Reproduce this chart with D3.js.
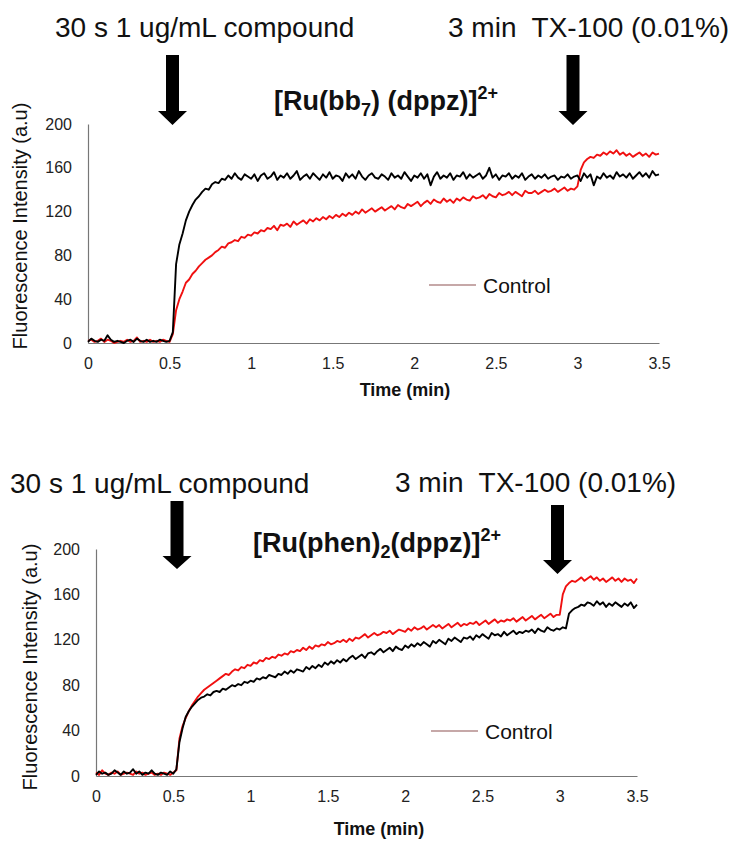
<!DOCTYPE html>
<html><head><meta charset="utf-8">
<script src="https://cdn.jsdelivr.net/npm/d3@7"></script>
<style>
body{margin:0;background:#fff}
svg{display:block}
text{font-family:"Liberation Sans",Arial,Helvetica,sans-serif}
</style>
</head><body>
<svg id="c" width="741" height="841"></svg>
<script>
// sampling grid (min), one reading every 0.02 min
const times = d3.range(176).map(i => +(i * 0.02).toFixed(2));
const xTicks = [0, 0.5, 1, 1.5, 2, 2.5, 3, 3.5];
const yTicks = [0, 40, 80, 120, 160, 200];
const legendLabel = "Control";
const annotLeft = "30 s 1 ug/mL compound";
const annotRight = "3 min  TX-100 (0.01%)";
const xLabel = "Time (min)";
const yLabel = "Fluorescence Intensity (a.u)";

// [Ru(bb7)(dppz)]2+ panel
const topBlack = [
  1,4,2,1,3,2,7,3,1,2,
  1,0,2,3,1,4,2,1,3,1,
  2,1,3,2,1,2,10,72,90,100,
  112,120,126,131,134,138,141,140,145,147,
  146,150,149,153,150,155,151,149,154,152,
  150,154,148,153,155,150,152,156,149,153,
  151,155,150,153,157,149,152,154,150,155,
  152,149,154,151,156,150,153,152,148,155,
  151,154,150,157,152,149,153,155,151,150,
  154,152,149,155,151,153,150,156,152,148,
  153,151,155,150,154,144,152,156,150,153,
  151,155,149,153,152,156,150,154,151,153,
  155,150,153,160,151,154,149,153,152,155,
  150,153,151,155,149,152,154,150,153,151,
  154,150,152,153,149,152,151,154,150,152,
  153,148,155,151,154,144,152,150,155,151,
  153,150,156,152,154,151,155,150,153,156,
  152,155,151,157,153,154
];
const topRed = [
  2,3,1,2,4,1,3,2,0,1,
  2,1,3,1,2,5,1,2,1,3,
  1,2,1,3,2,1,8,30,40,47,
  55,58,63,66,70,73,76,78,80,83,
  85,88,87,91,92,94,93,97,96,99,
  98,101,100,103,102,105,104,107,103,108,
  107,109,106,111,108,110,112,109,113,111,
  114,112,115,113,116,114,117,115,118,116,
  119,117,120,118,122,119,121,123,120,122,
  124,121,123,125,122,126,124,123,127,125,
  127,129,125,128,130,127,131,129,128,132,
  129,131,128,132,130,133,131,130,134,132,
  133,135,132,136,134,133,137,135,136,138,
  135,138,136,134,139,137,137,139,136,138,
  140,138,139,141,138,140,142,139,141,140,
  143,158,165,168,170,169,172,171,174,172,
  175,173,176,172,174,171,173,170,172,174,
  171,173,170,174,172,173
];
// [Ru(phen)2(dppz)]2+ panel
const botBlack = [
  1,4,2,3,1,2,5,3,1,4,
  2,3,6,2,4,1,3,2,5,2,
  1,3,2,1,4,2,6,30,42,52,
  57,61,64,67,69,70,72,71,74,75,
  74,77,76,78,80,79,81,80,83,82,
  84,83,86,85,87,86,89,88,87,90,
  89,92,90,93,91,94,93,92,96,94,
  97,95,98,96,100,98,101,99,102,100,
  103,101,104,106,103,105,107,104,108,109,
  107,110,112,109,111,113,110,114,112,111,
  115,113,116,114,117,115,118,116,114,119,
  117,120,118,116,121,119,122,120,118,122,
  121,123,120,124,122,125,123,121,126,124,
  125,123,127,124,126,128,125,127,126,128,
  127,129,126,130,128,127,131,129,128,130,
  129,131,130,143,146,148,149,151,150,153,
  152,150,154,151,153,149,152,150,153,151,
  149,152,150,153,148,151
];
const botRed = [
  3,1,5,2,1,3,2,4,1,2,
  3,2,1,4,2,3,1,2,3,1,
  2,1,3,2,1,3,5,33,44,51,
  57,62,66,70,73,76,78,80,82,84,
  86,88,90,89,92,94,93,96,95,98,
  97,100,99,102,101,104,103,105,104,107,
  106,108,107,110,109,111,110,113,111,114,
  112,115,114,116,115,118,116,117,119,118,
  120,118,121,119,122,121,123,125,122,124,
  126,124,125,127,126,128,125,127,129,128,
  127,130,128,131,129,130,132,129,131,133,
  131,133,130,132,134,131,133,135,132,134,
  133,135,134,136,133,135,137,134,136,138,
  135,137,136,138,137,139,136,138,140,137,
  139,141,138,140,142,139,141,143,140,142,
  142,160,167,170,172,171,173,175,172,174,
  176,173,175,172,174,171,173,175,172,174,
  171,174,172,173,170,174
];

const svg = d3.select("#c");
const FONT = '"Liberation Sans",Arial,Helvetica,sans-serif';

function arrow(cx, top, hs, tip) {
  const p = d3.path();
  p.moveTo(cx - 6.5, top); p.lineTo(cx + 6.5, top); p.lineTo(cx + 6.5, hs);
  p.lineTo(cx + 14.5, hs); p.lineTo(cx, tip); p.lineTo(cx - 14.5, hs);
  p.lineTo(cx - 6.5, hs); p.closePath();
  svg.append("path").attr("d", p.toString()).attr("fill", "#000");
}

function panel(c) {
  const x = d3.scaleLinear().domain([0, 3.5]).range([c.x0, c.x1]);
  const y = d3.scaleLinear().domain([0, 200]).range([c.y0, c.y1]);
  const g = svg.append("g");

  const ya = g.append("g").attr("transform", `translate(${c.x0},0)`)
    .call(d3.axisLeft(y).tickValues(yTicks).tickSize(0).tickPadding(16));
  const xa = g.append("g").attr("transform", `translate(0,${c.y0})`)
    .call(d3.axisBottom(x).tickValues(xTicks).tickFormat(d3.format("")).tickSize(0).tickPadding(15));
  [ya, xa].forEach(a => {
    a.select(".domain").attr("stroke", "#777").attr("stroke-width", 1.2);
    a.selectAll("text").attr("font-size", 16).attr("fill", "#222").attr("font-family", FONT);
  });

  const line = d3.line().x((d, i) => x(times[i])).y(d => y(d));
  g.append("path").datum(c.red).attr("d", line)
    .attr("fill", "none").attr("stroke", "#f01010").attr("stroke-width", 1.9).attr("stroke-linejoin", "round");
  g.append("path").datum(c.black).attr("d", line)
    .attr("fill", "none").attr("stroke", "#000").attr("stroke-width", 1.9).attr("stroke-linejoin", "round");

  // legend
  g.append("line").attr("x1", c.lgx).attr("x2", c.lgx + 47).attr("y1", c.lgy).attr("y2", c.lgy)
    .attr("stroke", "#b38b8b").attr("stroke-width", 1.5);
  g.append("text").attr("x", c.lgx + 54).attr("y", c.lgy + 8).attr("font-size", 21).attr("fill", "#111").text(legendLabel);

  // axis titles
  g.append("text").attr("x", c.xlx).attr("y", c.xly).attr("text-anchor", "middle")
    .attr("font-size", 18).attr("font-weight", "bold").attr("fill", "#111").text(xLabel);
  g.append("text").attr("transform", `translate(${c.ylx},${c.yly}) rotate(-90)`).attr("text-anchor", "middle")
    .attr("font-size", 20).attr("fill", "#111").text(yLabel);

  // title
  const t = g.append("text").attr("x", c.tx).attr("y", c.ty).attr("font-size", 27).attr("font-weight", "bold").attr("fill", "#111");
  c.title.forEach(part => {
    const s = t.append("tspan").text(part.s);
    if (part.k === "sub") s.attr("font-size", 18).attr("dy", 6);
    else if (part.k === "sup") s.attr("font-size", 18).attr("dy", -11);
    else if (part.k === "back") s.attr("dy", -6);
  });

  // annotations
  g.append("text").attr("x", c.a1x).attr("y", c.a1y).attr("font-size", 28).attr("fill", "#111").text(annotLeft);
  g.append("text").attr("x", c.a2x).attr("y", c.a2y).attr("font-size", 28).attr("fill", "#111")
    .style("white-space", "pre").attr("xml:space", "preserve").text(annotRight);
  c.arrows.forEach(a => arrow(a[0], a[1], a[2], a[3]));
}

panel({
  x0: 88, x1: 659, y0: 343, y1: 124,
  red: topRed, black: topBlack,
  lgx: 429, lgy: 285,
  xlx: 405, xly: 396, ylx: 27, yly: 226,
  tx: 274, ty: 110,
  title: [{s: "[Ru(bb"}, {s: "7", k: "sub"}, {s: ") (dppz)]", k: "back"}, {s: "2+", k: "sup"}],
  a1x: 55, a1y: 37, a2x: 448, a2y: 37,
  arrows: [[172.5, 55, 111, 125], [573, 55, 111, 125]]
});
panel({
  x0: 96, x1: 637, y0: 776, y1: 549,
  red: botRed, black: botBlack,
  lgx: 431, lgy: 731,
  xlx: 379, xly: 835, ylx: 37, yly: 667,
  tx: 253, ty: 552,
  title: [{s: "[Ru(phen)"}, {s: "2", k: "sub"}, {s: "(dppz)]", k: "back"}, {s: "2+", k: "sup"}],
  a1x: 10, a1y: 493, a2x: 395, a2y: 492,
  arrows: [[177, 501, 556, 569], [557.5, 505, 560, 574]]
});
</script>
</body></html>
